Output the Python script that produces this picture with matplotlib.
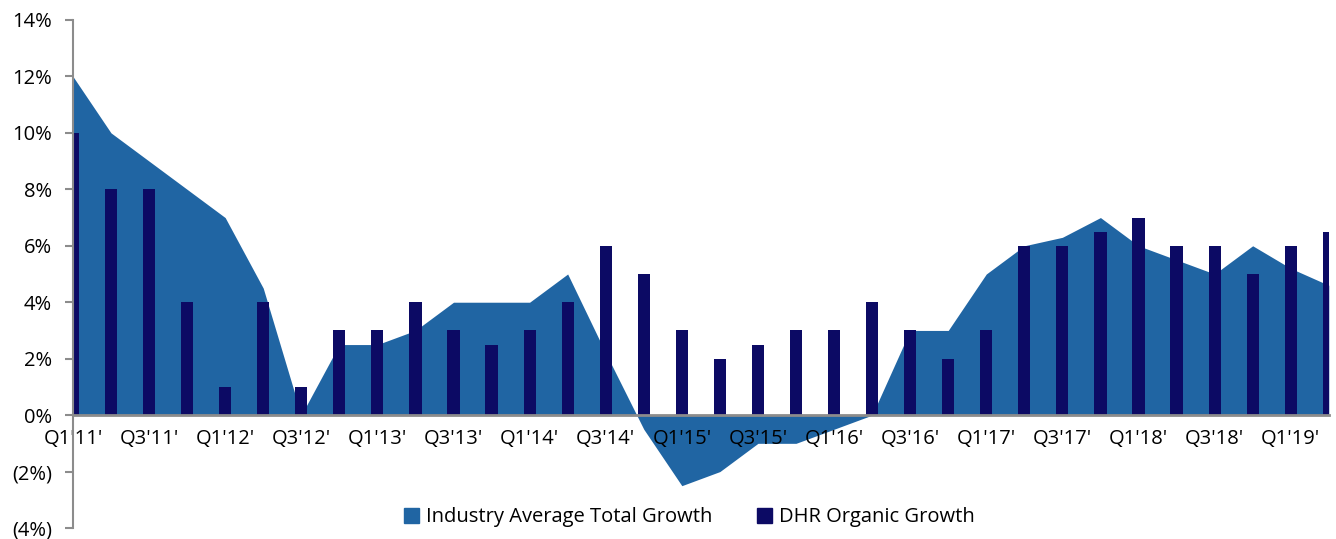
import matplotlib.pyplot as plt
import matplotlib.patches as mpatches
import numpy as np

plt.rcParams['font.family'] = ['Open Sans', 'DejaVu Sans']

# kvartaler Q1'11 .. Q2'19
quarters = ["Q1'11'", "Q2'11'", "Q3'11'", "Q4'11'", "Q1'12'", "Q2'12'", "Q3'12'", "Q4'12'",
            "Q1'13'", "Q2'13'", "Q3'13'", "Q4'13'", "Q1'14'", "Q2'14'", "Q3'14'", "Q4'14'",
            "Q1'15'", "Q2'15'", "Q3'15'", "Q4'15'", "Q1'16'", "Q2'16'", "Q3'16'", "Q4'16'",
            "Q1'17'", "Q2'17'", "Q3'17'", "Q4'17'", "Q1'18'", "Q2'18'", "Q3'18'", "Q4'18'",
            "Q1'19'", "Q2'19'"]

# industri gennemsnit (areal)
industry = [12, 10, 9, 8, 7, 4.5, 0, 2.5,
            2.5, 3, 4, 4, 4, 5, 2.2, -0.5,
            -2.5, -2, -1, -1, -0.5, 0, 3, 3,
            5, 6, 6.3, 7, 6, 5.5, 5, 6,
            5.2, 4.6]

# DHR organisk vækst (søjler)
dhr = [10, 8, 8, 4, 1, 4, 1, 3,
       3, 4, 3, 2.5, 3, 4, 6, 5,
       3, 2, 2.5, 3, 3, 4, 3, 2,
       3, 6, 6, 6.5, 7, 6, 6, 5,
       6, 6.5]

ytick_vals = [-4, -2, 0, 2, 4, 6, 8, 10, 12, 14]
ytick_labels = ['(4%)', '(2%)', '0%', '2%', '4%', '6%', '8%', '10%', '12%', '14%']

area_color = '#2065A3'
bar_color = '#0C0A64'
grey = '#8C8C8C'

fig = plt.figure(figsize=(13.36, 5.39), dpi=100)
ax = fig.add_axes([0.0546, 0.0204, 0.94, 0.9425])

x = np.arange(len(quarters))
ax.fill_between(x, 0, industry, color=area_color, linewidth=0, zorder=1)
ax.bar(x, dhr, width=0.32, color=bar_color, zorder=2)

ax.set_xlim(0, len(quarters) - 1)
ax.set_ylim(-4, 14)

ax.set_yticks(ytick_vals)
ax.set_yticklabels(ytick_labels)
ax.tick_params(axis='y', direction='out', length=6, width=1.5, color=grey, labelsize=14.5, pad=9)

ax.set_xticks(x[::2])
ax.set_xticklabels(quarters[::2])
ax.tick_params(axis='x', length=0, labelsize=14.5, pad=10)

for s in ['top', 'right']:
    ax.spines[s].set_visible(False)
ax.spines['bottom'].set_position(('data', 0))
ax.spines['bottom'].set_color(grey)
ax.spines['bottom'].set_linewidth(2)
ax.spines['bottom'].set_zorder(3)
ax.spines['left'].set_color(grey)
ax.spines['left'].set_linewidth(1.5)

handles = [mpatches.Patch(color=area_color, label='Industry Average Total Growth'),
           mpatches.Patch(color=bar_color, label='DHR Organic Growth')]
fig.legend(handles=handles, loc='center', bbox_to_anchor=(0.516, 0.04), ncol=2,
           frameon=False, fontsize=14.5, handlelength=0.75, handleheight=0.75,
           handletextpad=0.35, columnspacing=2.2)

fig.savefig('out.png', dpi=100)
